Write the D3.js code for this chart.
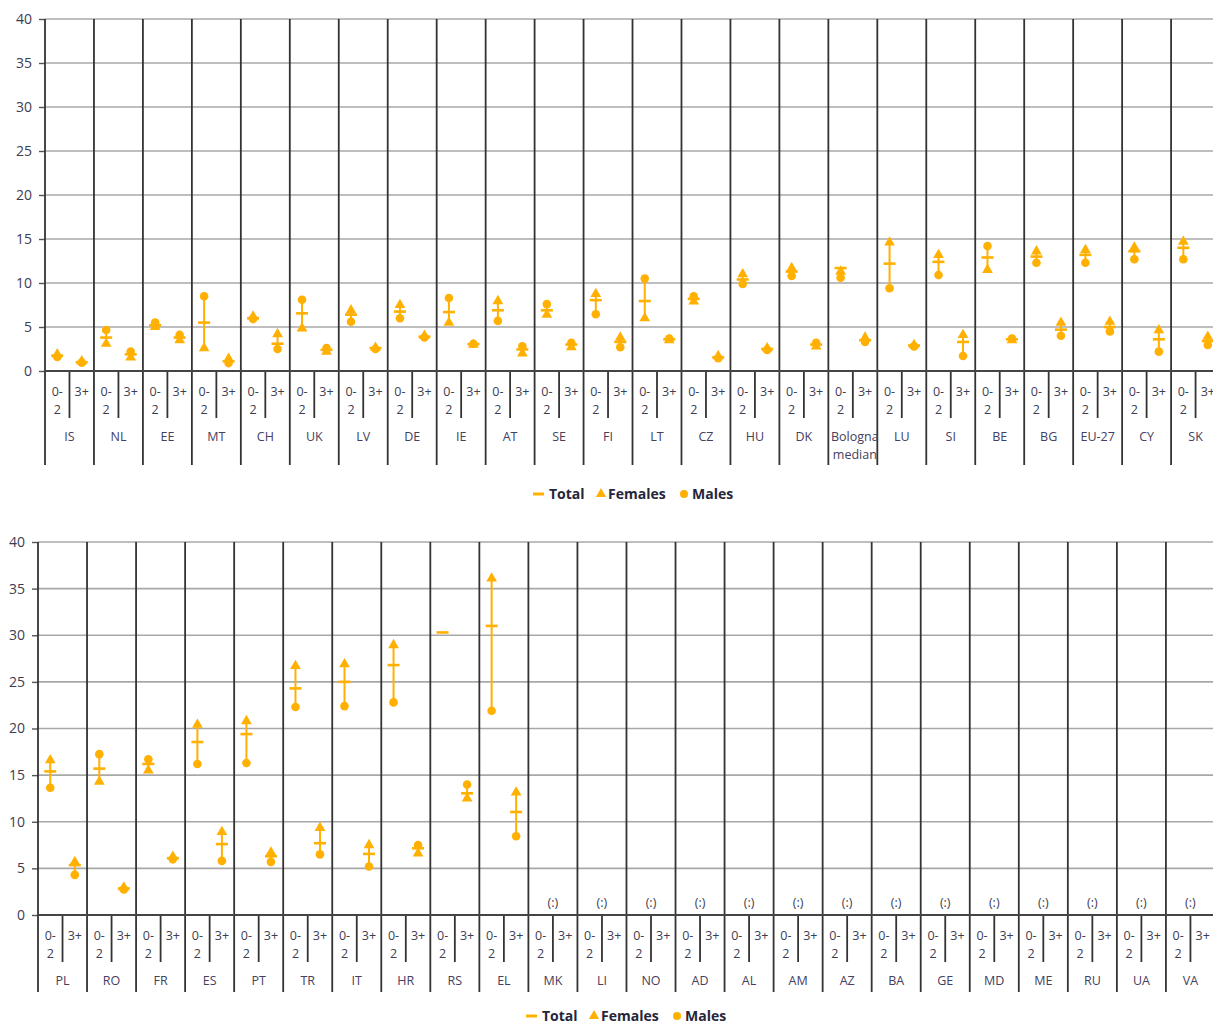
<!DOCTYPE html>
<html><head><meta charset="utf-8">
<script src="https://cdn.jsdelivr.net/npm/d3@7"></script>
<style>
html,body{margin:0;padding:0;background:#fff;}
svg{display:block;font-family:"Open Sans","Noto Sans",sans-serif;}
</style></head>
<body><svg id="chart" width="1213" height="1027"></svg>
<script>
const ageGroups = ["0-2", "3+"];
const yTicks = [0, 5, 10, 15, 20, 25, 30, 35, 40];
const legendLabels = ["Total", "Females", "Males"];
const missingLabel = "(:)";

const topCountries = ["IS","NL","EE","MT","CH","UK","LV","DE","IE","AT","SE","FI","LT","CZ","HU","DK","Bologna median","LU","SI","BE","BG","EU-27","CY","SK"];
const topFemales02 = [1.9,3.1,5.0,2.6,6.2,4.85,6.9,7.5,5.5,7.95,6.4,8.75,6.0,7.9,11.0,11.7,11.3,14.6,13.2,11.5,13.6,13.75,14.05,14.7];
const topMales02   = [1.6,4.66,5.5,8.5,5.9,8.1,5.6,6.0,8.3,5.7,7.6,6.45,10.5,8.5,9.9,10.8,10.6,9.4,10.9,14.2,12.3,12.3,12.7,12.7];
const topTotal02   = [1.75,3.8,5.2,5.5,6.0,6.55,6.4,6.75,6.7,6.9,6.9,8.05,7.95,8.2,10.4,11.3,11.7,12.2,12.4,12.9,13.0,13.2,13.6,14.0];
const topFemales3  = [1.1,1.55,3.5,1.4,4.2,2.2,2.65,4.0,3.0,2.0,2.7,3.8,3.5,1.7,2.6,2.8,3.8,2.95,4.1,3.5,5.5,5.6,4.65,3.9];
const topMales3    = [0.95,2.2,4.1,0.9,2.5,2.6,2.5,3.8,3.1,2.8,3.2,2.7,3.7,1.45,2.4,3.2,3.3,2.8,1.7,3.7,4.0,4.5,2.2,2.95];
const topTotal3    = [1.0,1.9,3.8,1.1,3.1,2.4,2.6,3.9,3.05,2.45,3.0,3.3,3.6,1.55,2.5,3.0,3.5,2.9,3.3,3.6,4.7,5.0,3.6,3.4];

const bottomCountries = ["PL","RO","FR","ES","PT","TR","IT","HR","RS","EL","MK","LI","NO","AD","AL","AM","AZ","BA","GE","MD","ME","RU","UA","VA"];
const bottomFemales02 = [16.6,14.3,15.5,20.4,20.8,26.7,26.9,28.95,null,36.1,null,null,null,null,null,null,null,null,null,null,null,null,null,null];
const bottomMales02   = [13.65,17.25,16.7,16.2,16.3,22.3,22.4,22.8,null,21.9,null,null,null,null,null,null,null,null,null,null,null,null,null,null];
const bottomTotal02   = [15.4,15.7,16.2,18.55,19.4,24.3,25.0,26.8,30.3,31.0,null,null,null,null,null,null,null,null,null,null,null,null,null,null];
const bottomFemales3  = [5.7,2.95,6.25,8.9,6.7,9.35,7.5,6.6,12.5,13.15,null,null,null,null,null,null,null,null,null,null,null,null,null,null];
const bottomMales3    = [4.3,2.75,5.97,5.8,5.7,6.5,5.2,7.5,14.0,8.45,null,null,null,null,null,null,null,null,null,null,null,null,null,null];
const bottomTotal3    = [5.35,2.85,6.1,7.6,6.3,7.7,6.55,7.15,13.05,11.05,null,null,null,null,null,null,null,null,null,null,null,null,null,null];

const ORANGE = "#FFB000";
const GRID = "#a8a8a8";
const DARK = "#333333";
const TXT = "#3d3d52";
const CAT = "#45405e";

const svg = d3.select("#chart");

function panel(opts) {
  const g = svg.append("g");
  const x = d3.scaleBand().domain(opts.countries).range([opts.x0, opts.x1]).paddingInner(0).paddingOuter(0);
  const sub = d3.scaleBand().domain(ageGroups).range([0, x.bandwidth()]);
  const y = d3.scaleLinear().domain([0, 40]).range([opts.yBottom, opts.yTop]);
  const cx = (c, a) => x(c) + sub(a) + sub.bandwidth() / 2;

  g.append("g").selectAll("line").data(yTicks.filter(t => t > 0)).join("line")
    .attr("x1", opts.x0).attr("x2", opts.x1)
    .attr("y1", d => y(d)).attr("y2", d => y(d))
    .attr("stroke", GRID).attr("stroke-width", 1.6);

  const ax = g.append("g").attr("transform", `translate(${opts.x0},0)`)
    .call(d3.axisLeft(y).tickValues(yTicks).tickSize(6).tickPadding(7));
  ax.select(".domain").remove();
  ax.selectAll(".tick line").attr("stroke", "#555").attr("stroke-width", 1.4);
  ax.selectAll(".tick text").attr("fill", TXT).style("font-size", "14px")
    .style("font-family", "'Open Sans',sans-serif");

  const bounds = opts.countries.map(c => x(c));
  g.append("g").selectAll("line").data(bounds).join("line")
    .attr("x1", d => d).attr("x2", d => d)
    .attr("y1", opts.yTop).attr("y2", opts.yBottom + opts.groupLineLen)
    .attr("stroke", DARK).attr("stroke-width", 1.8);

  g.append("g").selectAll("line").data(opts.countries).join("line")
    .attr("x1", d => x(d) + sub("3+")).attr("x2", d => x(d) + sub("3+"))
    .attr("y1", opts.yBottom).attr("y2", opts.yBottom + 47)
    .attr("stroke", DARK).attr("stroke-width", 1.8);

  g.append("line").attr("x1", opts.x0).attr("x2", opts.x1)
    .attr("y1", opts.yBottom).attr("y2", opts.yBottom)
    .attr("stroke", "#444").attr("stroke-width", 2);

  const sl = g.append("g").style("font-size", "12.5px").attr("fill", TXT).attr("text-anchor", "middle");
  opts.countries.forEach(c => {
    sl.append("text").attr("x", cx(c, "0-2")).attr("y", opts.yBottom + 25).text("0-");
    sl.append("text").attr("x", cx(c, "0-2")).attr("y", opts.yBottom + 43).text("2");
    sl.append("text").attr("x", cx(c, "3+")).attr("y", opts.yBottom + 25).text("3+");
  });

  const cl = g.append("g").style("font-size", "12.5px").attr("fill", CAT).attr("text-anchor", "middle");
  opts.countries.forEach(c => {
    const parts = c === "Bologna median" ? ["Bologna", "median"] : [c];
    parts.forEach((p, i) => cl.append("text").attr("x", x(c) + x.bandwidth() / 2 + (parts.length > 1 ? 2 : 0))
      .attr("y", opts.yBottom + 70 + i * 18).text(p));
  });

  const pts = [];
  opts.countries.forEach((c, i) => {
    pts.push({c, a: "0-2", f: opts.f02[i], m: opts.m02[i], t: opts.t02[i]});
    pts.push({c, a: "3+", f: opts.f3[i], m: opts.m3[i], t: opts.t3[i]});
  });
  const mg = g.append("g");
  pts.forEach(p => {
    const px = cx(p.c, p.a);
    if (p.f != null && p.m != null) {
      mg.append("line").attr("x1", px).attr("x2", px).attr("y1", y(p.f)).attr("y2", y(p.m))
        .attr("stroke", ORANGE).attr("stroke-width", 2);
    }
    if (p.t != null) {
      mg.append("line").attr("x1", px - 6).attr("x2", px + 6).attr("y1", y(p.t)).attr("y2", y(p.t))
        .attr("stroke", ORANGE).attr("stroke-width", 2.6);
    }
    if (p.f != null) {
      mg.append("path").attr("d", d3.symbol(d3.symbolTriangle, 50)())
        .attr("transform", `translate(${px},${y(p.f)})`).attr("fill", ORANGE);
    }
    if (p.m != null) {
      mg.append("circle").attr("cx", px).attr("cy", y(p.m)).attr("r", 4.3).attr("fill", ORANGE);
    }
  });

  opts.countries.forEach((c, i) => {
    if (opts.t02[i] == null && opts.t3[i] == null) {
      g.append("text").attr("x", x(c) + x.bandwidth() / 2).attr("y", opts.yBottom - 8)
        .attr("text-anchor", "middle").style("font-size", "12.5px").attr("fill", TXT).text(missingLabel);
    }
  });

  const lg = g.append("g").attr("transform", `translate(${opts.legendX},${opts.legendY})`);
  lg.append("line").attr("x1", 0).attr("x2", 11).attr("y1", 0).attr("y2", 0).attr("stroke", ORANGE).attr("stroke-width", 3);
  lg.append("text").attr("x", 16).attr("y", 5).text(legendLabels[0]);
  lg.append("path").attr("d", d3.symbol(d3.symbolTriangle, 45)()).attr("transform", "translate(68,0)").attr("fill", ORANGE);
  lg.append("text").attr("x", 75).attr("y", 5).text(legendLabels[1]);
  lg.append("circle").attr("cx", 151).attr("cy", 0).attr("r", 4).attr("fill", ORANGE);
  lg.append("text").attr("x", 159).attr("y", 5).text(legendLabels[2]);
  lg.selectAll("text").style("font-size", "14px").style("font-weight", "bold").attr("fill", "#26263a");
}

panel({
  countries: topCountries, f02: topFemales02, m02: topMales02, t02: topTotal02,
  f3: topFemales3, m3: topMales3, t3: topTotal3,
  x0: 45, x1: 45 + 24 * 48.96, yTop: 19, yBottom: 371, groupLineLen: 94,
  legendX: 533, legendY: 494
});
panel({
  countries: bottomCountries, f02: bottomFemales02, m02: bottomMales02, t02: bottomTotal02,
  f3: bottomFemales3, m3: bottomMales3, t3: bottomTotal3,
  x0: 38, x1: 38 + 24 * 49.04, yTop: 542, yBottom: 915, groupLineLen: 77,
  legendX: 526, legendY: 1016
});
</script></body></html>
